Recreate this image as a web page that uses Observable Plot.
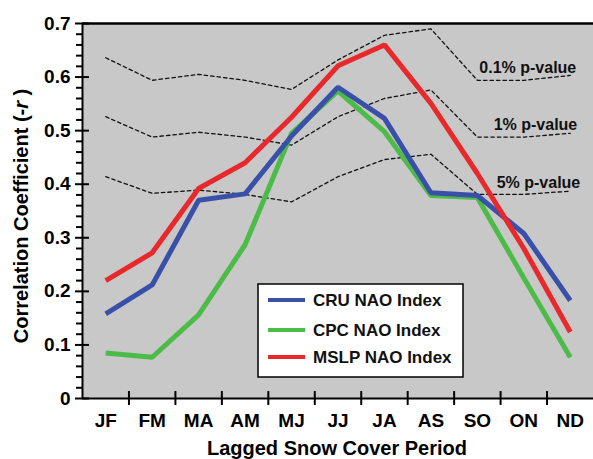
<!DOCTYPE html>
<html><head><meta charset="utf-8">
<script src="https://cdn.jsdelivr.net/npm/d3@7"></script>
<script src="https://cdn.jsdelivr.net/npm/@observablehq/plot@0.6"></script>
<style>
body{margin:0;background:#fff}
#chart svg{font-family:"Liberation Sans",Arial,Helvetica,sans-serif;font-weight:bold}
</style>
</head><body><div id="chart"></div>
<script>
const periods = ["JF","FM","MA","AM","MJ","JJ","JA","AS","SO","ON","ND"];
const cru  = [0.158,0.212,0.370,0.382,0.490,0.581,0.523,0.384,0.379,0.308,0.183];
const cpc  = [0.085,0.077,0.156,0.287,0.495,0.574,0.498,0.379,0.375,0.225,0.077];
const mslp = [0.220,0.272,0.392,0.440,0.525,0.621,0.660,0.551,0.420,0.280,0.124];
const p01  = [0.636,0.594,0.605,0.594,0.577,0.632,0.678,0.690,0.594,0.594,0.603];
const p1   = [0.526,0.488,0.497,0.488,0.473,0.526,0.560,0.576,0.488,0.488,0.495];
const p5   = [0.414,0.383,0.389,0.381,0.367,0.414,0.446,0.456,0.381,0.381,0.387];
const pLabels = ["0.1% p-value","1% p-value","5% p-value"];
const seriesNames = ["CRU NAO Index","CPC NAO Index","MSLP NAO Index"];
const seriesColors = ["#3a50a8","#4cbb48","#e8282a"];
const yMajor = [0,0.1,0.2,0.3,0.4,0.5,0.6,0.7];
const yMinor = [0.02,0.04,0.06,0.08,0.12,0.14,0.16,0.18,0.22,0.24,0.26,0.28,0.32,0.34,0.36,0.38,0.42,0.44,0.46,0.48,0.52,0.54,0.56,0.58,0.62,0.64,0.66,0.68];

const xc = (d,i) => i + 0.5;
const centers = periods.map((d,i)=>i+0.5);
const bounds = periods.slice(1).map((d,i)=>i+1);

const dashed = (arr) => Plot.line(arr, {x: xc, y: d=>d, stroke:"#111", strokeWidth:1.3, strokeDasharray:"3.5,3"});
const solid = (arr, c) => Plot.line(arr, {x: xc, y: d=>d, stroke:c, strokeWidth:5, strokeLinejoin:"miter", strokeLinecap:"butt"});
const pText = (label, arr, dx) => Plot.text([label], {x: 10.5, y: arr[9], text: d=>d, textAnchor:"end", dx, dy:-12, fontSize:16, fontWeight:"bold", fill:"#111"});

const plot = Plot.plot({
  width:593, height:459,
  marginLeft:82, marginRight:0, marginTop:23, marginBottom:61,
  x:{domain:[0,11]},
  y:{domain:[0,0.7]},
  style:{fontFamily:"Liberation Sans, Arial, sans-serif", fontWeight:"bold", fontSize:"19px", color:"#000", background:"transparent"},
  marks:[
    Plot.frame({fill:"#c8c8c8", stroke:null}),
    dashed(p01), dashed(p1), dashed(p5),
    solid(cpc, seriesColors[1]),
    solid(cru, seriesColors[0]),
    solid(mslp, seriesColors[2]),
    pText(pLabels[0], p01, 6),
    pText(pLabels[1], p1, 7),
    pText(pLabels[2], p5, 10),
    Plot.ruleY([0.7], {stroke:"#000", strokeWidth:2.5}),
    Plot.ruleX([0], {stroke:"#000", strokeWidth:2}),
    Plot.ruleY([0], {stroke:"#000", strokeWidth:2}),
    Plot.axisY({ticks:yMajor, tickSize:7, tickPadding:5, strokeWidth:2, tickFormat:d=> d===0 ? "0" : d.toFixed(1), label:null, fontSize:19}),
    Plot.axisY({ticks:yMinor, tickSize:6, strokeWidth:2, tickFormat:()=>"", label:null}),
    Plot.ruleY(yMajor, {x1:0, x2:0.15, stroke:"#000", strokeWidth:2}),
    Plot.axisX({ticks:centers, tickSize:0, tickPadding:15, tickFormat:v=>periods[Math.floor(v)], label:null, fontSize:19}),
    Plot.ruleX(bounds, {y1:-0.013, y2:0.013, stroke:"#000", strokeWidth:2})
  ]
});
document.getElementById("chart").appendChild(plot);

const svg = d3.select(plot);
// axis titles
const yt = svg.append("text")
  .attr("transform","translate(21,216) rotate(-90)")
  .attr("text-anchor","middle").attr("dominant-baseline","central")
  .style("font-size","20px").style("font-weight","bold").attr("fill","#000");
yt.append("tspan").text("Correlation Coefficient (-");
yt.append("tspan").style("font-style","italic").text("r");
yt.append("tspan").text(" )");
svg.append("text").attr("x",337).attr("y",455).attr("text-anchor","middle")
  .style("font-size","20px").style("font-weight","bold").attr("fill","#000")
  .text("Lagged Snow Cover Period");

// legend
const lg = svg.append("g");
lg.append("rect").attr("x",258).attr("y",284).attr("width",205).attr("height",93)
  .attr("fill","#fff").attr("stroke","#000").attr("stroke-width",1.5);
const rowsY = [300,330,357];
seriesNames.forEach((n,i)=>{
  lg.append("line").attr("x1",268).attr("x2",305).attr("y1",rowsY[i]).attr("y2",rowsY[i])
    .attr("stroke",seriesColors[i]).attr("stroke-width",4);
  lg.append("text").attr("x",313).attr("y",rowsY[i]).attr("text-anchor","start").attr("dominant-baseline","central")
    .style("font-size","17px").style("font-weight","bold").attr("fill","#111").text(n);
});
</script>
</body></html>
